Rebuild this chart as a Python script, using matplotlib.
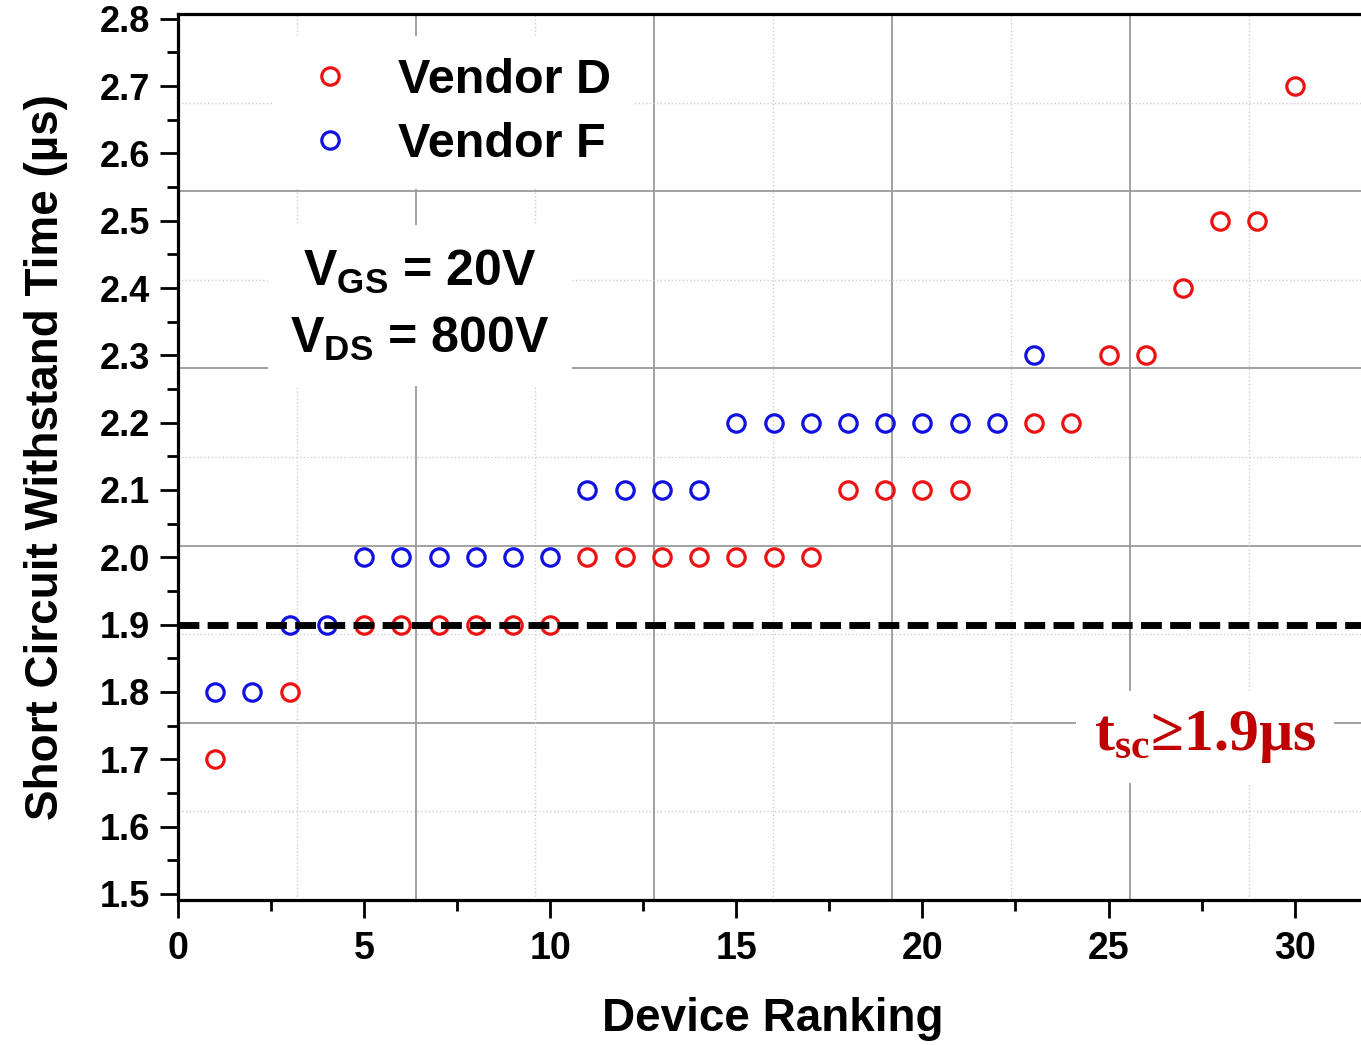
import matplotlib
matplotlib.use("Agg")
import matplotlib.pyplot as plt
from matplotlib.ticker import MultipleLocator

# Vendor D devices
vendor_d_rank = [1, 3, 5, 6, 7, 8, 9, 10, 11, 12, 13, 14, 15, 16, 17,
                 18, 19, 20, 21, 23, 24, 25, 26, 27, 28, 29, 30]
vendor_d_tsc = [1.7, 1.8, 1.9, 1.9, 1.9, 1.9, 1.9, 1.9,
                2.0, 2.0, 2.0, 2.0, 2.0, 2.0, 2.0,
                2.1, 2.1, 2.1, 2.1, 2.2, 2.2, 2.3, 2.3, 2.4, 2.5, 2.5, 2.7]

# Vendor F devices
vendor_f_rank = [1, 2, 3, 4, 5, 6, 7, 8, 9, 10, 11, 12, 13, 14,
                 15, 16, 17, 18, 19, 20, 21, 22, 23]
vendor_f_tsc = [1.8, 1.8, 1.9, 1.9, 2.0, 2.0, 2.0, 2.0, 2.0, 2.0,
                2.1, 2.1, 2.1, 2.1, 2.2, 2.2, 2.2, 2.2, 2.2, 2.2, 2.2, 2.2, 2.3]

tsc_limit = 1.9

plt.rcParams["font.family"] = ["Liberation Sans", "DejaVu Sans"]
plt.rcParams["font.weight"] = "bold"
plt.rcParams["mathtext.fontset"] = "custom"
plt.rcParams["mathtext.sf"] = "Liberation Sans:bold"
plt.rcParams["mathtext.bf"] = "Liberation Serif:bold"

fig = plt.figure(figsize=(13.61, 10.45), dpi=100)
ax = fig.add_axes([0.1308, 0.1388, 0.8743, 0.8478])

xmin, xmax = 0, 31.97
ymin, ymax = 1.491, 2.807
ax.set_xlim(xmin, xmax)
ax.set_ylim(ymin, ymax)

# grid from the original plot (5 divisions, not tied to the ticks)
for k in range(1, 10):
    frac = k / 10
    if k % 2 == 0:
        style = dict(color="#9a9a9a", linewidth=1.3, linestyle="-")
    else:
        style = dict(color="#cfcfcf", linewidth=1.0, linestyle=":")
    ax.axvline(xmin + frac * (xmax - xmin), zorder=0.5, **style)
    ax.axhline(ymin + frac * (ymax - ymin), zorder=0.5, **style)

ax.plot(vendor_d_rank, vendor_d_tsc, linestyle="none", marker="o", markersize=12.5,
        markerfacecolor="none", markeredgecolor="#ee1111", markeredgewidth=2.3,
        label="Vendor D", zorder=4)
ax.plot(vendor_f_rank, vendor_f_tsc, linestyle="none", marker="o", markersize=12.5,
        markerfacecolor="none", markeredgecolor="#1010e0", markeredgewidth=2.3,
        label="Vendor F", zorder=4)

# threshold line
ax.axhline(tsc_limit, color="black", linewidth=5, linestyle=(0, (3, 1.2)), zorder=4.5)

leg = ax.legend(loc="upper left", bbox_to_anchor=(0.079, 0.975), borderaxespad=0,
                frameon=True, fancybox=False, edgecolor="none", framealpha=1,
                fontsize=35, handlelength=1.5, handletextpad=0.65,
                labelspacing=0.4, borderpad=0.45, numpoints=1)
leg.set_zorder(5)

ax.text(6.5, 2.374, "$\\mathsf{V_{GS}}$ = 20V\n$\\mathsf{V_{DS}}$ = 800V",
        fontsize=36, fontweight="bold", ha="center", va="center",
        linespacing=1.5, zorder=5,
        bbox=dict(boxstyle="square,pad=0.45", facecolor="white", edgecolor="none"))

ax.text(27.6, 1.733, "$\\mathbf{t_{sc}}$\u22651.9\u00b5s", family="Liberation Serif",
        fontsize=43, fontweight="bold", color="#c00000", ha="center", va="center",
        zorder=5,
        bbox=dict(boxstyle="square,pad=0.3", facecolor="white", edgecolor="none"))

ax.xaxis.set_major_locator(MultipleLocator(5))
ax.xaxis.set_minor_locator(MultipleLocator(2.5))
ax.yaxis.set_minor_locator(MultipleLocator(0.05))
ax.set_yticks([1.5 + 0.1 * i for i in range(14)])
ax.set_yticklabels([f"{1.5 + 0.1 * i:.1f}" for i in range(14)])

ax.tick_params(which="major", direction="out", length=13, width=2, labelsize=26, pad=7)
ax.tick_params(axis="x", which="major", labelsize=27, pad=9)
ax.tick_params(which="minor", direction="out", length=8, width=2)
for side in ["left", "bottom", "top"]:
    ax.spines[side].set_linewidth(2.3)
ax.spines["right"].set_visible(False)

ax.set_xlabel("Device Ranking", fontsize=33, fontweight="bold", labelpad=22)
ax.set_ylabel("Short Circuit Withstand Time (\u00b5s)", fontsize=33, fontweight="bold",
              labelpad=23)

fig.savefig("out.png", dpi=100)
